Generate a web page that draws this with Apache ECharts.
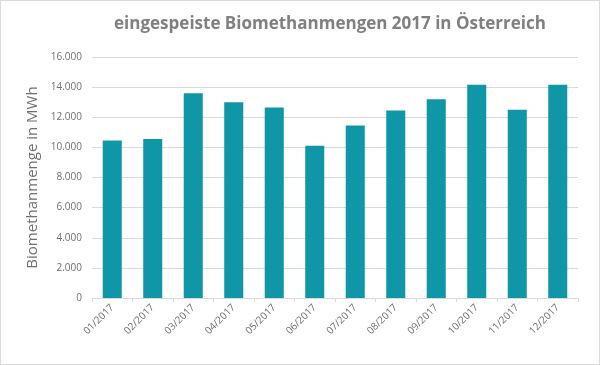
<!DOCTYPE html>
<html><head><meta charset="utf-8">
<script src="https://cdn.jsdelivr.net/npm/echarts@6/dist/echarts.min.js"></script>
<style>html,body{margin:0;padding:0;background:#fff}#c{width:600px;height:365px;box-sizing:border-box;border:1px solid #d9d9d9}</style>
</head><body><div id="c"></div>
<script>
const titleText = 'eingespeiste Biomethanmengen 2017 in Österreich';
const yAxisName = 'Biomethanmenge in MWh';
const categories = ['01/2017','02/2017','03/2017','04/2017','05/2017','06/2017','07/2017','08/2017','09/2017','10/2017','11/2017','12/2017'];
const values = [10450, 10550, 13600, 13000, 12650, 10100, 11450, 12450, 13200, 14150, 12500, 14150];

const chart = echarts.init(document.getElementById('c'));
const fmt = v => String(v).replace(/\B(?=(\d{3})+(?!\d))/g, '.');
chart.setOption({
  animation: false,
  title: {text: titleText, left: 324, top: 10, textAlign: 'center',
    textStyle: {fontFamily: 'Open Sans', fontSize: 17, fontWeight: 'bold', color: '#808080'}},
  grid: {left: 91, right: 21, top: 56, bottom: 66, containLabel: false},
  xAxis: {type: 'category', data: categories,
    axisLine: {lineStyle: {color: '#d9d9d9'}},
    axisTick: {show: true, lineStyle: {color: '#d9d9d9'}, length: 4},
    axisLabel: {rotate: 45, color: '#6f6f6f', fontFamily: 'Open Sans', fontSize: 10, margin: 8}},
  yAxis: {type: 'value', min: 0, max: 16000, interval: 2000,
    name: yAxisName, nameLocation: 'middle', nameGap: 52, nameRotate: 90,
    nameTextStyle: {fontFamily: 'Open Sans', fontSize: 15, color: '#6f6f6f'},
    axisLine: {show: false}, axisTick: {show: false},
    splitLine: {lineStyle: {color: '#d9d9d9'}},
    axisLabel: {color: '#6f6f6f', fontFamily: 'Open Sans', fontSize: 10, margin: 10, formatter: fmt}},
  series: [{type: 'bar', data: values, barWidth: '47%', itemStyle: {color: '#0f97a7'}}]
});
</script></body></html>
